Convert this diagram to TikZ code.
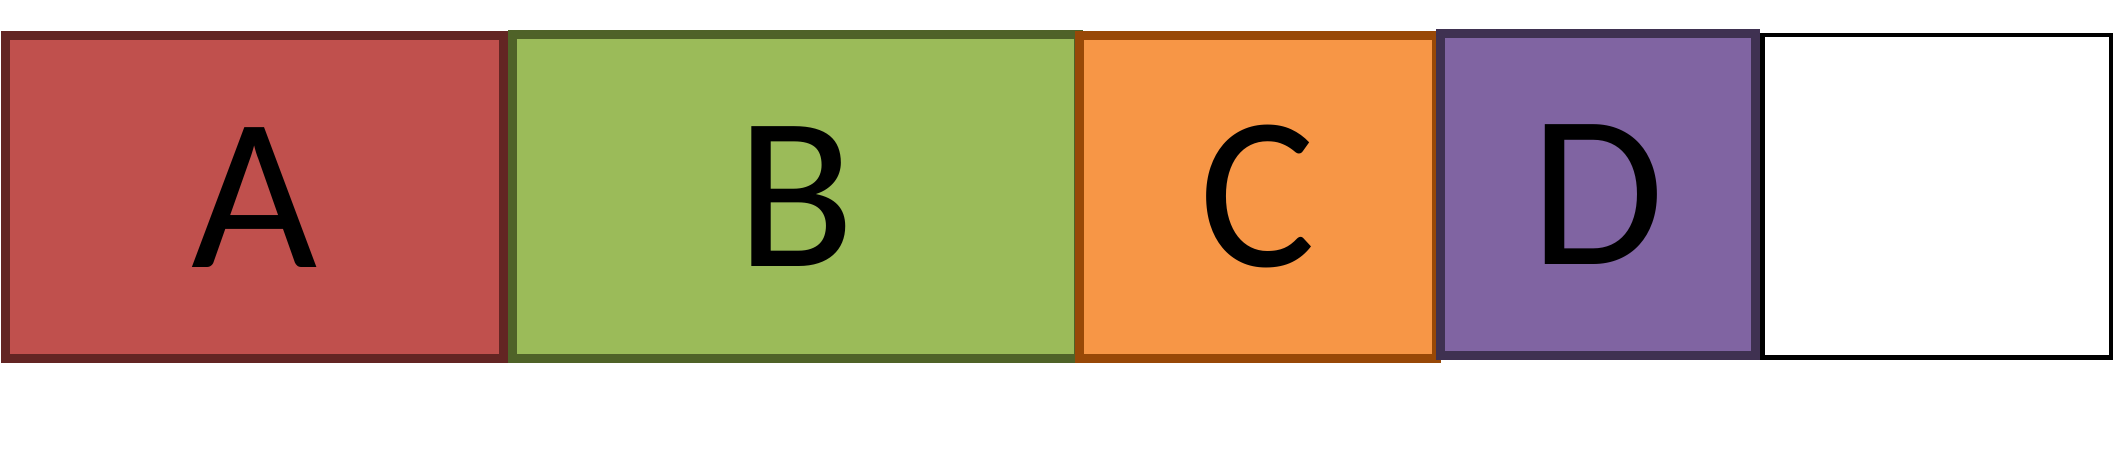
\documentclass[tikz,border=0pt]{standalone}
\usepackage{fontspec}
\setmainfont{Carlito}
\usepackage{tikz}
\usetikzlibrary{positioning}

\definecolor{redfill}{RGB}{192,80,77}
\definecolor{redline}{RGB}{99,37,35}
\definecolor{greenfill}{RGB}{155,187,89}
\definecolor{greenline}{RGB}{79,98,40}
\definecolor{orangefill}{RGB}{247,150,70}
\definecolor{orangeline}{RGB}{152,72,7}
\definecolor{purplefill}{RGB}{128,100,162}
\definecolor{purpleline}{RGB}{63,49,81}

\begin{document}
\begin{tikzpicture}[
            x=1pt, y=1pt,
            box/.style={draw, rectangle, line width=9pt, inner sep=0pt, outer sep=0pt,
                        font=\fontsize{218}{218}\selectfont},
        ]
            \useasboundingbox (0,0) rectangle (2117,463);

            % coloured parts
            \node[box, fill=redfill, draw=redline, minimum width=497.5pt, minimum height=323.3pt] (A) at (254.25,265.85) {A};
            \node[box, fill=greenfill, draw=greenline, minimum width=566.4pt, minimum height=323.7pt] (B) at (795.3,266.65) {B};
            \node[box, fill=orangefill, draw=orangeline, minimum width=357pt, minimum height=323pt] (C) at (1258,266) {C};
            \node[box, fill=purplefill, draw=purpleline, minimum width=315pt, minimum height=322pt] (D) at (1598,268.5) {D};

            % empty part
            \node[box, fill=white, draw=black, line width=4.5pt, minimum width=348.5pt, minimum height=322.5pt] (E) at (1936.5,266.5) {};
        \end{tikzpicture}
\end{document}
